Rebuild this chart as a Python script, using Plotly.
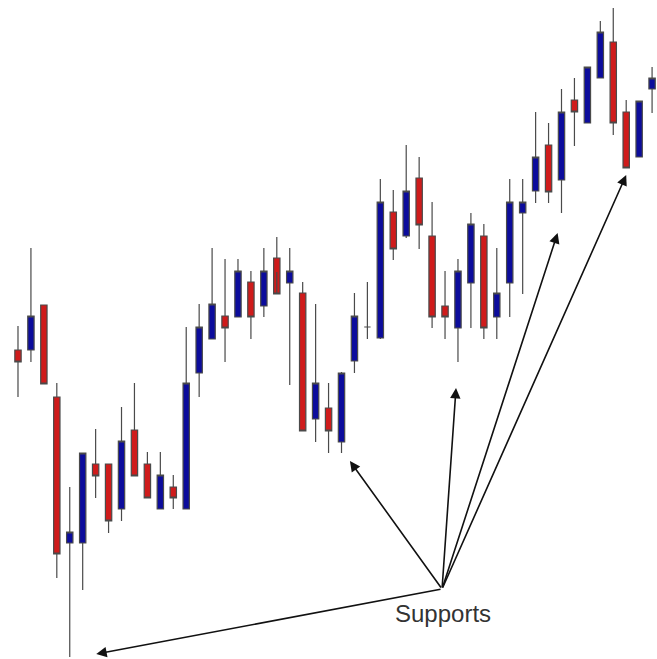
import plotly.graph_objects as go

# Prices (arbitrary units, higher = up)
opens = [310, 310, 355, 263, 117, 117, 196, 196, 151, 230, 196, 151, 173, 151,
         287, 321, 344, 343, 378, 354, 402, 377, 367, 241, 252, 218, 299, 333,
         322, 448, 424, 482, 424, 354, 332, 377, 424, 343, 377, 447, 469, 515,
         480, 560, 537, 582, 618, 548, 503, 571]
highs = [334, 412, 355, 277, 173, 207, 231, 196, 253, 277, 208, 208, 185, 333,
         356, 412, 401, 401, 389, 412, 423, 412, 378, 356, 277, 288, 367, 378,
         481, 470, 515, 503, 458, 389, 401, 447, 436, 412, 481, 481, 548, 537,
         571, 582, 593, 639, 652, 560, 559, 593]
lows  = [263, 298, 276, 82, 3, 70, 162, 127, 139, 184, 162, 151, 151, 151,
         263, 321, 298, 343, 321, 343, 388, 275, 229, 218, 207, 207, 287, 321,
         321, 400, 422, 411, 332, 321, 298, 332, 321, 321, 343, 366, 457, 457,
         447, 514, 537, 582, 525, 492, 503, 547]
closes = [298, 344, 276, 106, 128, 207, 184, 139, 219, 184, 162, 185, 162, 277,
          333, 356, 332, 389, 343, 389, 366, 389, 229, 277, 229, 287, 344, 333,
          458, 411, 469, 435, 343, 343, 389, 436, 332, 367, 458, 458, 503, 468,
          548, 548, 593, 628, 537, 492, 559, 582]
idx = list(range(len(opens)))

support_label = "Supports"
support_origin = (32.77, 71)
support_targets = [(6.05, 6), (25.65, 199), (33.85, 272), (41.7, 427), (47.0, 485)]

fig = go.Figure()
fig.add_trace(go.Candlestick(
    x=idx, open=opens, high=highs, low=lows, close=closes,
    increasing=dict(fillcolor="#0c0c9c", line=dict(color="#4a4a4a", width=1.2)),
    decreasing=dict(fillcolor="#cf1b1b", line=dict(color="#4a4a4a", width=1.2)),
    whiskerwidth=0,
    showlegend=False,
))

for tx, ty in support_targets:
    fig.add_annotation(
        x=tx, y=ty, ax=support_origin[0], ay=support_origin[1],
        xref="x", yref="y", axref="x", ayref="y",
        showarrow=True, arrowhead=2, arrowsize=1.3, arrowwidth=1.6,
        arrowcolor="#111111", text="",
    )

fig.add_annotation(
    x=support_origin[0] + 0.05, y=support_origin[1] - 24, xref="x", yref="y",
    text=support_label, showarrow=False,
    font=dict(family="Liberation Sans, Arial, sans-serif", size=24, color="#333333"),
)

fig.update_layout(
    width=657, height=659,
    margin=dict(l=0, r=0, t=0, b=0),
    paper_bgcolor="white", plot_bgcolor="white",
    xaxis=dict(range=[-1.39, 49.38], visible=False, rangeslider=dict(visible=False),
               showgrid=False, zeroline=False, fixedrange=True),
    yaxis=dict(range=[1, 660], visible=False, showgrid=False, zeroline=False),
)

fig.write_html("out.html", config={"displayModeBar": False},
               post_script="document.body.style.margin='0';")
